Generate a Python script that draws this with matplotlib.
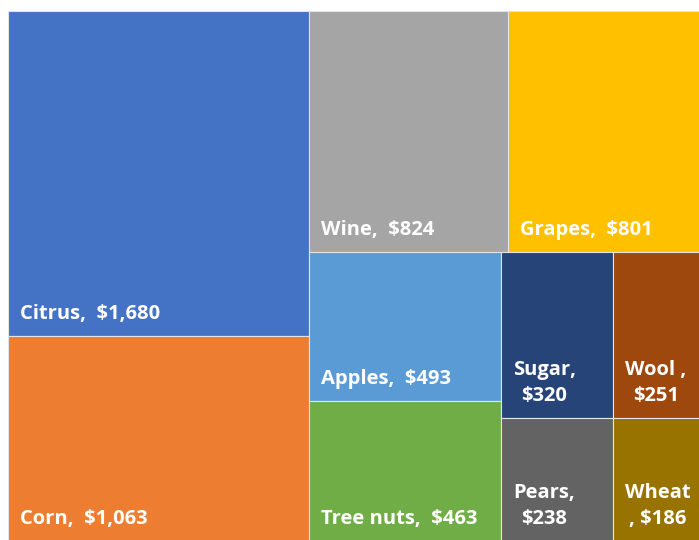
import matplotlib.pyplot as plt
from matplotlib.patches import Rectangle

plt.rcParams['font.family'] = ['Open Sans', 'DejaVu Sans']

names = ['Citrus', 'Corn', 'Wine', 'Grapes', 'Apples', 'Tree nuts', 'Sugar', 'Wool', 'Pears', 'Wheat']
values = [1680, 1063, 824, 801, 493, 463, 320, 251, 238, 186]
labels = ['Citrus,  $1,680', 'Corn,  $1,063', 'Wine,  $824', 'Grapes,  $801', 'Apples,  $493',
          'Tree nuts,  $463', 'Sugar,\n$320', 'Wool ,\n$251', 'Pears,\n$238', 'Wheat\n, $186']
colors = ['#4472C4', '#ED7D31', '#A5A5A5', '#FFC000', '#5B9BD5',
          '#70AD47', '#264478', '#9E480E', '#636363', '#997300']

W, H = 693.0, 530.0


def worst(row, side):
    s = sum(row)
    return max(max(side * side * r / (s * s), s * s / (side * side * r)) for r in row)


def squarify(areas, x, y, w, h):
    # classic squarified treemap, areas already scaled to w*h
    rects = []
    areas = list(areas)
    while areas:
        side = min(w, h)
        row = [areas.pop(0)]
        while areas and worst(row + [areas[0]], side) <= worst(row, side):
            row.append(areas.pop(0))
        s = sum(row)
        if w >= h:
            cw = s / h
            cy = y
            for a in row:
                rects.append((x, cy, cw, a / cw))
                cy += a / cw
            x += cw
            w -= cw
        else:
            rh = s / w
            cx = x
            for a in row:
                rects.append((cx, y, a / rh, rh))
                cx += a / rh
            y += rh
            h -= rh
    return rects


total = sum(values)
areas = [v * W * H / total for v in values]
rects = squarify(areas, 0, 0, W, H)

fig = plt.figure(figsize=(6.99, 5.40), dpi=100)
ax = fig.add_axes([8 / 699, -1 / 540, W / 699, H / 540])
ax.set_xlim(0, W)
ax.set_ylim(H, 0)
ax.axis('off')

for (rx, ry, rw, rh), lab, c in zip(rects, labels, colors):
    ax.add_patch(Rectangle((rx, ry), rw, rh, facecolor=c, edgecolor='#e4e4e4', linewidth=0.8))
    ax.text(rx + 12, ry + rh - 17, lab, color='white', fontsize=14.5, fontweight='bold',
            ha='left', va='baseline', multialignment='center', linespacing=1.38)

fig.savefig('out.png', dpi=100)
